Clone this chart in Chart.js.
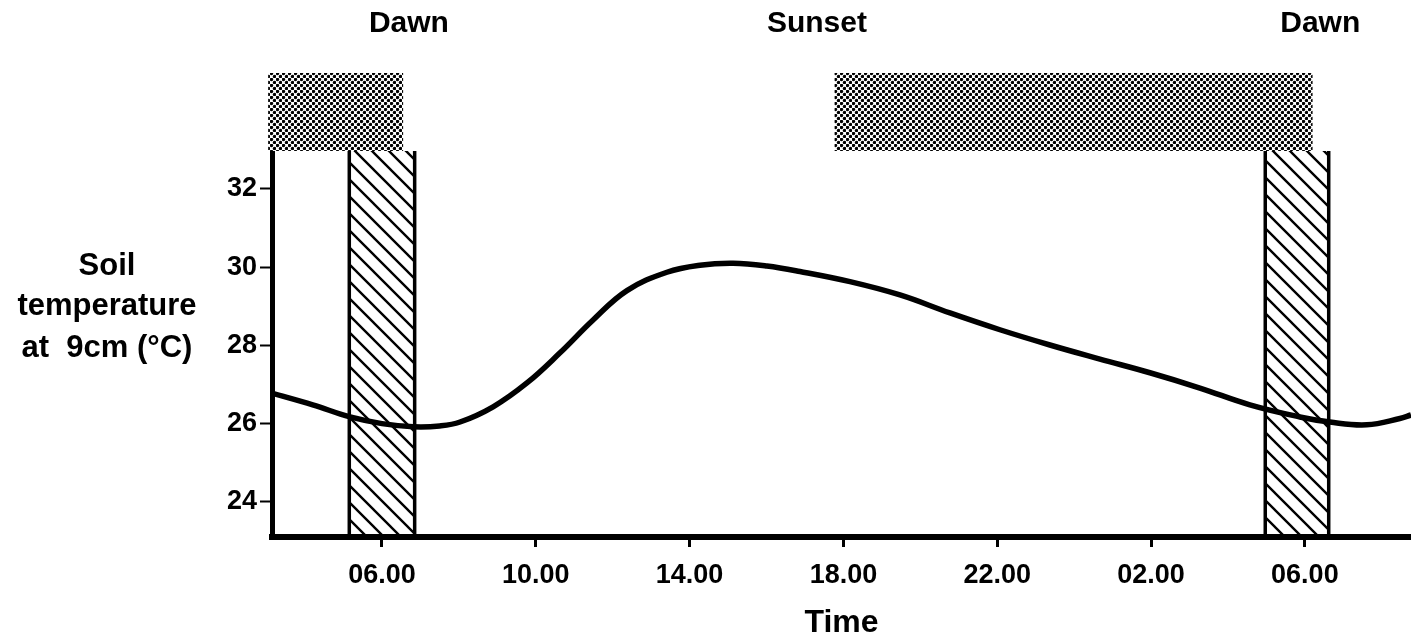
<!DOCTYPE html>
<html><head><meta charset="utf-8">
<script src="https://cdn.jsdelivr.net/npm/chart.js@4.4.1/dist/chart.umd.min.js"></script>
<style>html,body{margin:0;padding:0;background:#fff;}#wrap{width:1411px;height:643px;position:relative;}</style>
</head><body><div id="wrap"><canvas id="c" width="1411" height="643"></canvas></div>
<script>
// ---- data ----
const hours = [3.14, 4.2, 5.17, 6.0, 6.81, 7.5, 8.03, 8.89, 9.77, 10.63, 11.49, 12.37, 13.41, 14.27, 15.13, 16.01, 16.87, 18.17, 19.47, 20.77, 22.07, 23.37, 24.67, 25.97, 27.27, 28.57, 29.87, 30.65, 31.61, 32.47, 32.76];
const temps = [26.78, 26.48, 26.17, 26.0, 25.92, 25.94, 26.04, 26.43, 27.04, 27.81, 28.65, 29.4, 29.87, 30.05, 30.1, 30.03, 29.89, 29.63, 29.29, 28.83, 28.40, 28.01, 27.65, 27.30, 26.91, 26.48, 26.17, 26.04, 25.97, 26.13, 26.22];
const tickHours = [6, 10, 14, 18, 22, 26, 30];
const tickLabels = ['06.00', '10.00', '14.00', '18.00', '22.00', '02.00', '06.00'];
const yTickValues = [24, 26, 28, 30, 32];
const darkStart = [3.04, 17.77];
const darkEnd = [6.55, 30.2];
const dawnStart = [5.15, 28.97];
const dawnEnd = [6.85, 30.62];
const eventLabels = ['Dawn', 'Sunset', 'Dawn'];
const eventHours = [6.7, 17.31, 30.4];
const yTitleLines = ['Soil', 'temperature', 'at  9cm (°C)'];
const xTitle = 'Time';

// ---- patterns ----
function dotPattern(ctx) {
  const t = document.createElement('canvas'); t.width = 6; t.height = 6;
  const g = t.getContext('2d'); g.fillStyle = '#000';
  [[1.5,1.5],[4.5,4.5]].forEach(([x,y]) => { g.beginPath(); g.arc(x,y,1.7,0,Math.PI*2); g.fill(); });
  return ctx.createPattern(t, 'repeat');
}
function hatchPattern(ctx) {
  const s = 17;
  const t = document.createElement('canvas'); t.width = s; t.height = s;
  const g = t.getContext('2d'); g.strokeStyle = '#000'; g.lineWidth = 2.4;
  g.beginPath(); g.moveTo(-2,-2); g.lineTo(s+2,s+2);
  g.moveTo(-2,s-2); g.lineTo(2,s+2); g.moveTo(s-2,-2); g.lineTo(s+2,2); g.stroke();
  return ctx.createPattern(t, 'repeat');
}

const FONT = '"Liberation Sans", Arial, sans-serif';

const bandsPlugin = {
  id: 'bands',
  beforeDatasetsDraw(chart) {
    const {ctx, chartArea: a, scales: {x}} = chart;
    ctx.save();
    ctx.fillStyle = dotPattern(ctx);
    for (let i = 0; i < darkStart.length; i++) {
      const x1 = x.getPixelForValue(darkStart[i]), x2 = x.getPixelForValue(darkEnd[i]);
      ctx.fillRect(x1, a.top - 80, x2 - x1, 78);
    }
    ctx.fillStyle = hatchPattern(ctx);
    for (let i = 0; i < dawnStart.length; i++) {
      const x1 = x.getPixelForValue(dawnStart[i]), x2 = x.getPixelForValue(dawnEnd[i]);
      ctx.fillRect(x1, a.top - 2, x2 - x1, a.bottom - a.top);
      ctx.strokeStyle = '#000'; ctx.lineWidth = 3.5;
      ctx.beginPath();
      ctx.moveTo(x1, a.top - 2); ctx.lineTo(x1, a.bottom);
      ctx.moveTo(x2, a.top - 2); ctx.lineTo(x2, a.bottom);
      ctx.stroke();
    }
    ctx.restore();
  },
  afterDraw(chart) {
    const {ctx, chartArea: a, scales: {x}} = chart;
    ctx.save();
    ctx.fillStyle = '#000';
    ctx.textAlign = 'center'; ctx.textBaseline = 'middle';
    ctx.font = 'bold 30px ' + FONT;
    eventLabels.forEach((t, i) => ctx.fillText(t, x.getPixelForValue(eventHours[i]), 24));
    ctx.font = 'bold 31px ' + FONT;
    const ys = [a.top + 113, a.top + 153, a.top + 195];
    yTitleLines.forEach((t, i) => ctx.fillText(t, a.left - 165, ys[i]));
    ctx.restore();
  }
};

new Chart(document.getElementById('c'), {
  type: 'line',
  data: {
    datasets: [{
      data: hours.map((h, i) => ({x: h, y: temps[i]})),
      borderColor: '#000', borderWidth: 5.5, pointRadius: 0,
      tension: 0.4, fill: false
    }]
  },
  options: {
    responsive: false, animation: false, devicePixelRatio: 1,
    layout: {padding: {top: 153, left: 0, right: 0, bottom: 0}},
    plugins: {legend: {display: false}, tooltip: {enabled: false}},
    scales: {
      x: {
        type: 'linear', min: 3.14, max: 32.76,
        afterBuildTicks: s => { s.ticks = tickHours.map(v => ({value: v})); },
        afterFit: s => { s.height = 106; },
        ticks: {
          autoSkip: false, maxRotation: 0, color: '#000', padding: 12,
          font: {family: FONT, weight: 'bold', size: 27},
          callback: v => tickLabels[tickHours.indexOf(v)]
        },
        grid: {display: true, drawOnChartArea: false, drawTicks: true, tickLength: 10, tickWidth: 3, tickColor: '#000'},
        border: {display: true, color: '#000', width: 6},
        title: {display: true, text: xTitle, color: '#000', font: {family: FONT, weight: 'bold', size: 32}, padding: {top: 0, bottom: 1}}
      },
      y: {
        type: 'linear', min: 23.1, max: 32.92,
        afterBuildTicks: s => { s.ticks = yTickValues.map(v => ({value: v})); },
        afterFit: s => { s.width = 272; },
        ticks: {
          color: '#000', padding: 3,
          font: {family: FONT, weight: 'bold', size: 27}
        },
        grid: {display: true, drawOnChartArea: false, drawTicks: true, tickLength: 12, tickWidth: 2, tickColor: '#000'},
        border: {display: true, color: '#000', width: 5}
      }
    }
  },
  plugins: [bandsPlugin]
});
</script></body></html>
